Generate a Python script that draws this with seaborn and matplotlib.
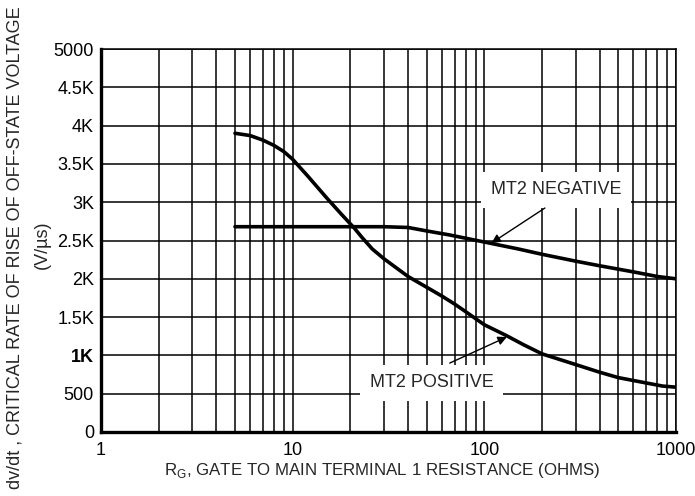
import matplotlib
matplotlib.use("Agg")
import matplotlib.pyplot as plt
import seaborn as sns
import pandas as pd
from matplotlib import font_manager as fm

sns.set_style("white")
names = {f.name for f in fm.fontManager.ttflist}
fam = ["Liberation Sans Narrow", "Liberation Sans", "DejaVu Sans"]
fam = [f for f in fam if f in names] or ["DejaVu Sans"]
plt.rcParams["font.family"] = fam

# Data
pos_x = [5, 6, 7, 8, 9, 10, 12, 15, 18, 21, 23, 26, 30, 40, 50, 60, 70, 80, 90, 100, 130, 160, 200, 300, 400, 500, 700, 850, 1000]
pos_y = [3900, 3870, 3810, 3740, 3660, 3560, 3340, 3060, 2840, 2660, 2540, 2390, 2260, 2030, 1890, 1775, 1670, 1570, 1480, 1400, 1260, 1140, 1020, 880, 780, 710, 640, 600, 585]
neg_x = [5, 10, 20, 30, 40, 50, 66, 100, 150, 200, 300, 400, 600, 800, 1000]
neg_y = [2680, 2680, 2680, 2680, 2670, 2625, 2572, 2480, 2390, 2320, 2230, 2170, 2090, 2030, 2000]
series = ["MT2 POSITIVE", "MT2 NEGATIVE"]

y_ticks = [0, 500, 1000, 1500, 2000, 2500, 3000, 3500, 4000, 4500, 5000]
y_labels = ["0", "500", "1K", "1.5K", "2K", "2.5K", "3K", "3.5K", "4K", "4.5K", "5000"]
x_ticks = [1, 10, 100, 1000]
x_labels = ["1", "10", "100", "1000"]

df = pd.concat([
    pd.DataFrame({"R": pos_x, "dvdt": pos_y, "s": series[0]}),
    pd.DataFrame({"R": neg_x, "dvdt": neg_y, "s": series[1]}),
])

W, H = 695, 496
fig = plt.figure(figsize=(W / 100, H / 100), dpi=100)
ax = fig.add_axes([101 / W, 1 - 432 / H, 575 / W, 383 / H])

sns.lineplot(data=df, x="R", y="dvdt", hue="s", palette=["black", "black"],
             linewidth=2.6, legend=False, ax=ax, zorder=5)
for ln in ax.lines:
    ln.set_solid_joinstyle("round")
ax.set_xscale("log")
ax.set_xlim(1, 1000)
ax.set_ylim(0, 5000)

# grid
for d in [1, 10, 100]:
    for m in range(1, 10):
        ax.axvline(d * m, color="black", lw=1.1, zorder=1)
ax.axvline(1000, color="black", lw=1.1, zorder=1)
for yv in y_ticks:
    ax.axhline(yv, color="black", lw=1.1, zorder=1)

ax.set_xticks(x_ticks)
ax.set_xticklabels(x_labels)
ax.set_xticks([], minor=True)
ax.set_yticks(y_ticks)
ax.set_yticklabels(y_labels)
for t in ax.get_yticklabels():
    if t.get_text() == "1K":
        t.set_fontweight("bold")
ax.tick_params(axis="both", labelsize=13, length=0, colors="black")
ax.tick_params(axis="x", pad=7)
ax.tick_params(axis="y", pad=5)
ax.set_xlabel("")
ax.set_ylabel("")

for s in ["top", "right"]:
    ax.spines[s].set_linewidth(1.1)
for s in ["left", "bottom"]:
    ax.spines[s].set_linewidth(2.4)
for s in ax.spines.values():
    s.set_color("black")
    s.set_zorder(6)

# axis titles, fitted to the reference text lengths
renderer = fig.canvas.get_renderer()

def fit(t, target, horiz=True):
    for _ in range(3):
        bb = t.get_window_extent(renderer)
        cur = bb.width if horiz else bb.height
        t.set_fontsize(t.get_fontsize() * target / cur)

xl = fig.text(382 / W, 1 - 470 / H, "R$_\\mathregular{G}$, GATE TO MAIN TERMINAL 1 RESISTANCE (OHMS)",
              ha="center", va="center", fontsize=13)
fit(xl, 435)
yl1 = fig.text(15 / W, 1 - 248 / H, "dv/dt , CRITICAL RATE OF RISE OF OFF-STATE VOLTAGE",
               rotation=90, ha="center", va="center", fontsize=13)
fit(yl1, 484, horiz=False)
fig.text(42 / W, 1 - 245 / H, "(V/µs)", rotation=90, ha="center", va="center",
         fontsize=yl1.get_fontsize())

box = dict(facecolor="white", edgecolor="none", boxstyle="square,pad=0.55")
ax.text(236, 3160, "MT2 NEGATIVE", fontsize=13, ha="center", va="center", bbox=box, zorder=4)
ax.text(53, 640, "MT2 POSITIVE", fontsize=13, ha="center", va="center", bbox=box, zorder=4)
arrow = dict(arrowstyle="-|>", color="black", lw=1.0, mutation_scale=13, shrinkA=0, shrinkB=0)
ax.annotate("", xy=(109, 2467), xytext=(207, 2924), arrowprops=arrow, zorder=4)
ax.annotate("", xy=(131, 1240), xytext=(66, 900), arrowprops=arrow, zorder=4)

fig.savefig("out.png", dpi=100)
